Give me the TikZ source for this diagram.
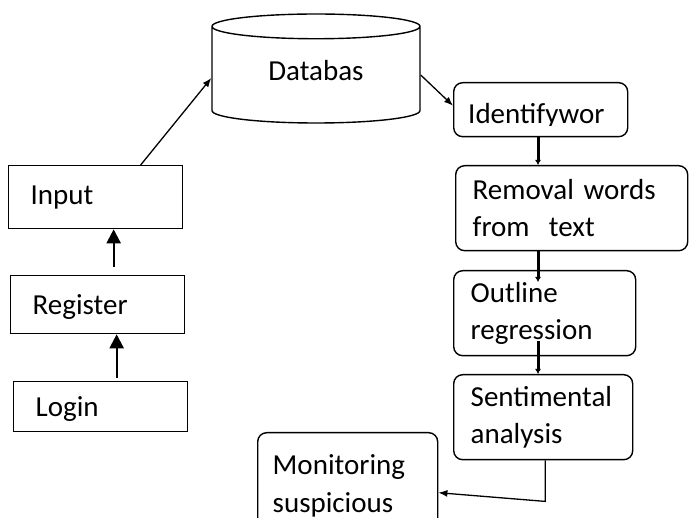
\documentclass[tikz,border=0pt]{standalone}
\usepackage{fontspec}
\setmainfont{Carlito}
\usetikzlibrary{arrows.meta, shapes, positioning, calc}

\begin{document}
\begin{tikzpicture}[
    x=1pt, y=-1pt,
    every node/.style={font=\fontsize{29}{37.5}\selectfont},
    plainbox/.style={rectangle, draw, line width=1.3pt, anchor=north west, inner ysep=0pt, inner xsep=22pt, align=left},
    roundbox/.style={rectangle, rounded corners=9pt, draw, line width=1.4pt, anchor=north west, inner ysep=0pt, inner xsep=17pt, align=left},
    dbshape/.style={cylinder, shape border rotate=90, aspect=0.26, draw, line width=1.4pt, minimum width=208pt, minimum height=109pt, inner sep=0pt, anchor=shape center},
    bigarrow/.style={-{Triangle[length=14pt, width=14pt]}, line width=2.2pt},
    thinarrow/.style={-{Latex[length=9pt, width=7pt]}, line width=1.3pt},
    steparrow/.style={-{Latex[length=5pt, width=6pt]}, line width=3pt}
    ]

    \useasboundingbox (0,0) rectangle (689,518);

    % Nodes
    \node[plainbox, minimum height=63pt, text width=130pt] (input) at (8,165) {Input};
    \node[plainbox, minimum height=58pt, text width=130pt, text depth=0pt] (reg) at (10,275) {Register};
    \node[plainbox, minimum height=50pt, text width=130pt, text depth=0pt] (login) at (13,381) {Login};
    \node[dbshape, text depth=9pt] (db) at (316,68.5) {Databas};
    \node[roundbox, minimum width=174pt, minimum height=54pt] (ident) at (453,82) {};
    \begin{scope}
        \clip (ident.north west) rectangle ($(ident.east)+(0,16)$);
        \node[anchor=base west, inner sep=0pt] (identtxt) at ($(ident.west)+(15,14)$) {Identifywor};
    \end{scope}
    \node[roundbox, minimum height=85pt, text width=198pt] (removal) at (455,165) {Removal words\\from~ text};
    \node[roundbox, minimum height=85pt, text width=148pt] (outline) at (453,270) {Outline\\regression};
    \node[roundbox, minimum height=85pt, text width=145pt] (senti) at (453,374) {Sentimental\\analysis};
    \node[roundbox, minimum height=106pt, text width=150pt, inner xsep=15pt] (mon) at (257,432) {Monitoring\\suspicious};
    \coordinate (col) at (538,0);

    % Edges
    \draw[bigarrow] ([xshift=16pt,yshift=8pt]reg.north) -- ([xshift=18pt]input.south);
    \draw[bigarrow] ([xshift=16pt,yshift=3pt]login.north) -- ([xshift=19pt]reg.south);
    \draw[thinarrow] ([xshift=45pt]input.north) -- ([yshift=-3pt]db.west);
    \draw[thinarrow] (db.east) -- ([yshift=4pt]ident.west);
    \draw[steparrow] (ident.south -| col) -- (removal.north -| col);
    \draw[steparrow] (removal.south -| col) -- ($(outline.north -| col)+(0,12)$);
    \draw[steparrow] ($(outline.south -| col)+(0,-15)$) -- (senti.north -| col);
    \draw[thinarrow] ([xshift=2pt]senti.south) -- ++(0,41) -- ([yshift=-7pt]mon.east);
\end{tikzpicture}
\end{document}
